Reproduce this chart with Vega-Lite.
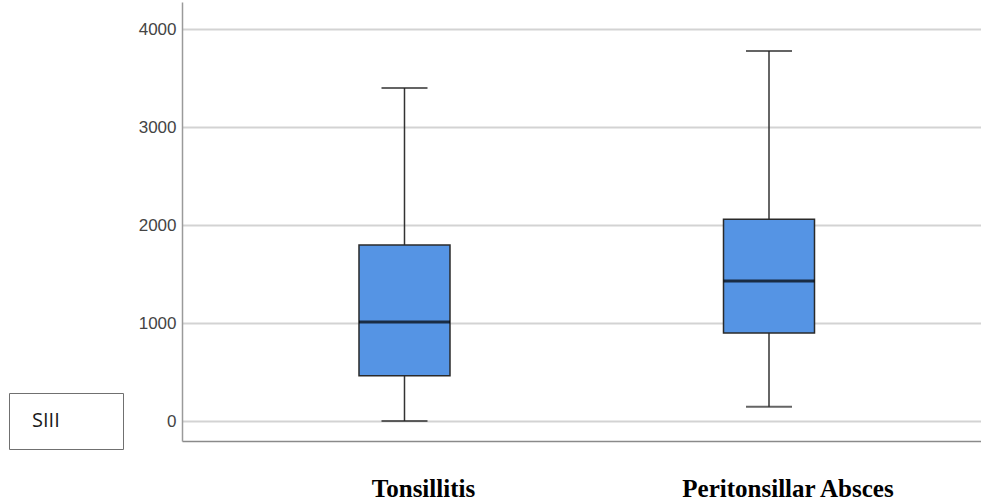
{
  "$schema": "https://vega.github.io/schema/vega-lite/v6.json",
  "width": 799,
  "height": 439,
  "autosize": {"type": "none"},
  "padding": {"left": 182, "top": 2, "right": 0, "bottom": 62},
  "background": "white",
  "config": {"view": {"stroke": null}},
  "data": {
    "values": [
      {"group": "Tonsillitis", "lower": 0, "q1": 462, "median": 1010, "q3": 1796, "upper": 3398},
      {"group": "Peritonsillar Absces", "lower": 146, "q1": 898, "median": 1429, "q3": 2058, "upper": 3776}
    ]
  },
  "encoding": {
    "x": {
      "field": "group",
      "type": "nominal",
      "sort": null,
      "scale": {"paddingInner": 0, "paddingOuter": 0.096, "align": 0.575},
      "axis": {
        "title": null,
        "ticks": false,
        "grid": false,
        "domainColor": "#8a8a8a",
        "domainWidth": 1.5,
        "labelFont": "Liberation Serif",
        "labelFontSize": 25,
        "labelFontWeight": "bold",
        "labelColor": "black",
        "labelAngle": 0,
        "labelPadding": 35,
        "labelOffset": 19,
        "labelLimit": 0
      }
    }
  },
  "layer": [
    {
      "mark": {"type": "rule", "color": "#333333", "strokeWidth": 1.5},
      "encoding": {
        "y": {
          "field": "lower",
          "type": "quantitative",
          "title": null,
          "scale": {"domain": [-204, 4276], "nice": false, "zero": false},
          "axis": {
            "values": [0, 1000, 2000, 3000, 4000],
            "format": "d",
            "grid": true,
            "gridColor": "#d3d3d3",
            "gridWidth": 2,
            "domainColor": "#9a9a9a",
            "domainWidth": 1.5,
            "ticks": false,
            "labelPadding": 6,
            "labelFont": "Liberation Sans",
            "labelFontSize": 17,
            "labelColor": "#444444",
            "title": null
          }
        },
        "y2": {"field": "upper"}
      }
    },
    {
      "mark": {"type": "tick", "color": "#222222", "size": 46, "thickness": 2},
      "encoding": {"y": {"field": "lower", "type": "quantitative", "title": null}}
    },
    {
      "mark": {"type": "tick", "color": "#222222", "size": 46, "thickness": 2},
      "encoding": {"y": {"field": "upper", "type": "quantitative", "title": null}}
    },
    {
      "mark": {"type": "bar", "size": 91, "fill": "#5594e4", "stroke": "#2a2a2a", "strokeWidth": 1.5},
      "encoding": {
        "y": {"field": "q1", "type": "quantitative", "title": null},
        "y2": {"field": "q3"}
      }
    },
    {
      "mark": {"type": "tick", "color": "#000000", "size": 91, "thickness": 3},
      "encoding": {"y": {"field": "median", "type": "quantitative", "title": null}}
    },
    {
      "mark": {"type": "point", "opacity": 0},
      "encoding": {
        "y": {"field": "median", "type": "quantitative", "title": null},
        "color": {
          "datum": "SIII",
          "scale": {"range": ["white"]},
          "legend": {
            "title": null,
            "orient": "none",
            "legendX": -173,
            "legendY": 391,
            "padding": 18,
            "strokeColor": "#707070",
            "fillColor": "white",
            "symbolSize": 0,
            "symbolOpacity": 0,
            "symbolStrokeWidth": 0,
            "labelOffset": -15,
            "labelFont": "Open Sans",
            "labelFontSize": 20,
            "labelColor": "#1a1a1a",
            "labelLimit": 0,
            "labelExpr": "datum.label + '\u2800\u2800\u2800'"
          }
        }
      }
    }
  ]
}
